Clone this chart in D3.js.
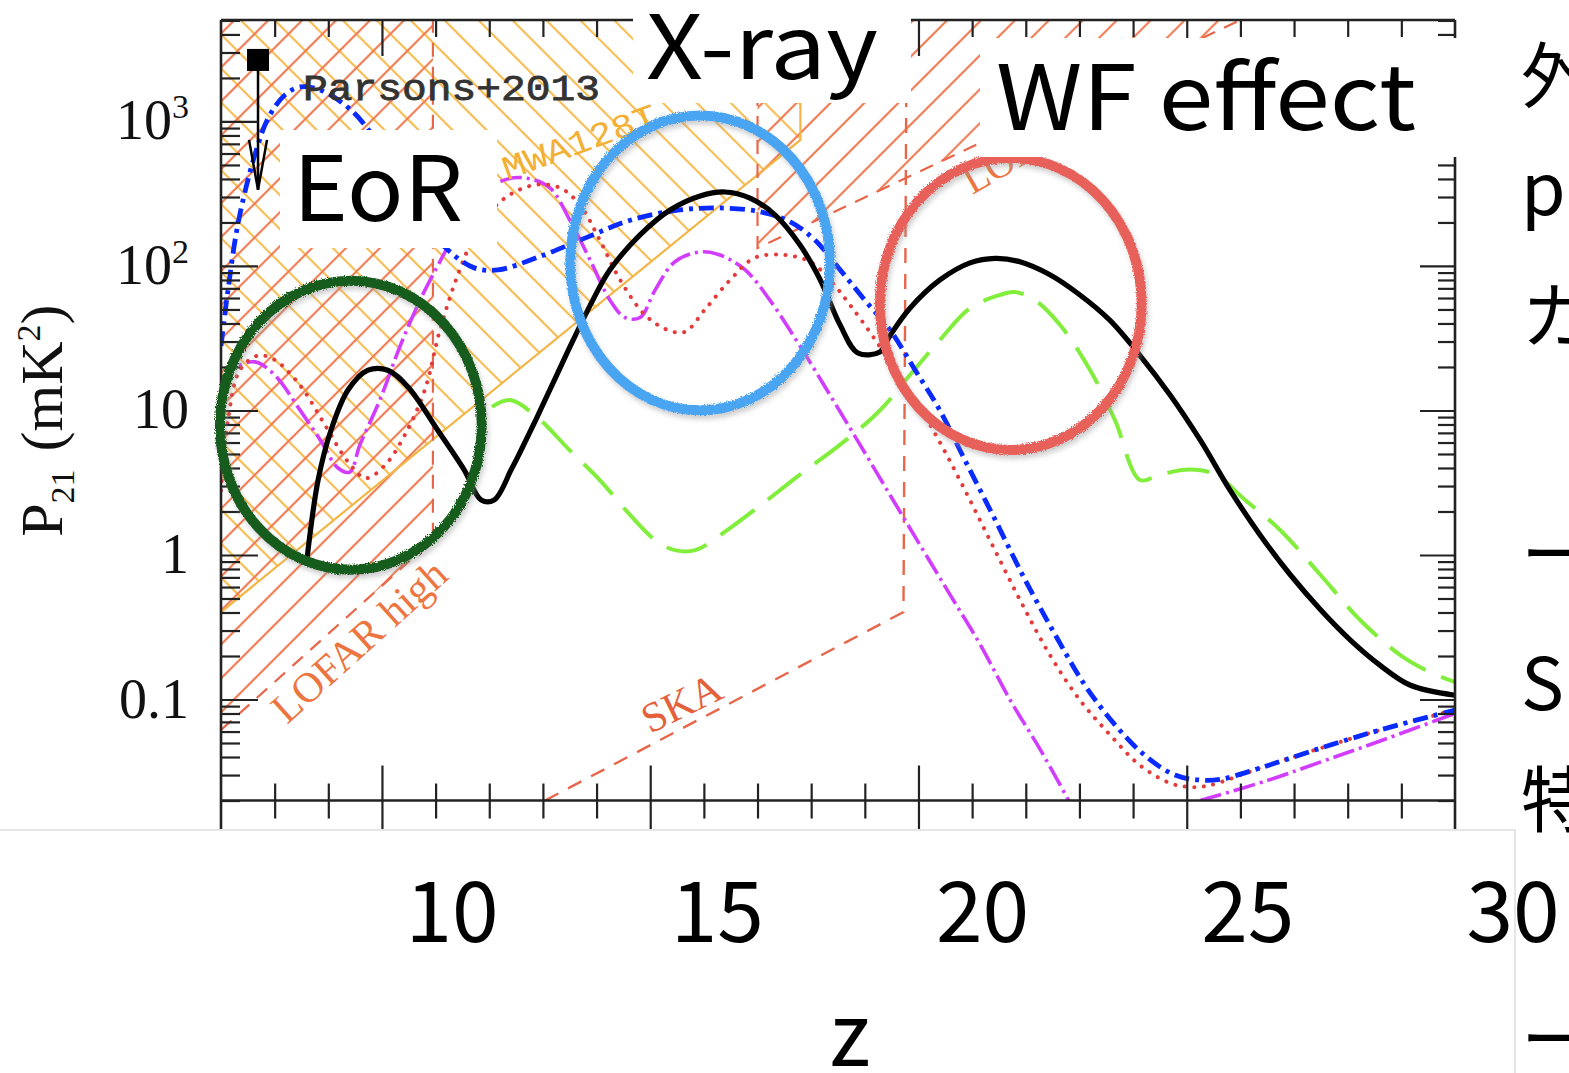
<!DOCTYPE html>
<html><head><meta charset="utf-8">
<script src="https://cdn.jsdelivr.net/npm/d3@7"></script>
<style>html,body{margin:0;padding:0;background:#fff;overflow:hidden}</style>
</head><body>
<svg id="c" width="1569" height="1073"></svg>
<script>
// ---------------- data ----------------
const blackZ = [8.6,8.81,9.05,9.37,9.74,10.11,10.49,11.04,11.53,11.85,12.09,12.41,12.57,12.95,13.45,13.93,14.25,14.81,15.37,15.93,16.39,16.86,17.33,17.79,18.17,18.54,18.87,19.28,19.47,19.84,20.4,20.96,21.43,21.89,22.45,23.01,23.57,24.13,24.69,25.25,25.81,26.37,26.93,27.49,28.04,28.6,29.16,30];
const blackP = [0.92,3.3,7.3,13.9,19,19,14.5,7.3,3.9,2.4,2.4,3.9,5.1,10,25,58,94,164,244,305,325,295,225,140,80,39,25,25.4,33,51,80,105,113,107,87,63,42,24,12.8,6.25,2.8,1.37,0.73,0.42,0.26,0.173,0.126,0.107];

const greenZ = [12.05,12.39,12.89,13.5,14.06,14.62,15.09,15.46,15.84,16.3,17.05,17.79,18.54,19.28,19.84,20.4,20.96,21.52,21.8,22.17,22.64,23.2,23.66,24.13,24.5,25.06,25.53,26.09,26.74,27.49,28.23,28.98,29.53,30];
const greenP = [10.6,11.8,9.0,5.3,3.3,1.9,1.27,1.08,1.08,1.37,2.2,3.6,5.8,10,17.6,30.8,51,63,66,58,39,19,8.6,3.3,3.6,3.9,3.6,2.4,1.49,0.73,0.355,0.203,0.155,0.132];

const magentaZ = [7,7.26,7.63,8.0,8.47,8.85,9.18,9.4,9.59,9.96,10.34,10.71,11.08,11.45,11.83,12.29,12.67,13.13,13.5,13.88,14.25,14.53,14.81,15.09,15.46,15.93,16.3,16.77,17.23,17.79,18.35,18.91,19.47,20.03,20.59,21.15,21.71,22.27,22.8];
const magentaP = [15,19.7,21.7,17.6,10.1,6.25,4.0,3.75,5.8,11.8,28,58,107,192,310,394,406,347,208,110,58,44,44,68,107,125,119,94,58,28,12.8,5.8,2.6,1.17,0.53,0.24,0.099,0.045,0.02];
const magenta2Z = [25.25,26.5,27.5,28.5,30];
const magenta2P = [0.02,0.0275,0.037,0.05,0.08];

const redZ = [7.0,7.13,7.35,7.69,8.0,8.47,8.94,9.37,9.7,10.06,10.43,10.8,11.08,11.45,11.83,12.29,12.85,13.32,13.69,14.06,14.44,14.9,15.33,15.65,16.02,16.49,16.95,17.51,17.98,18.35,18.72,19.19,19.66,20.22,20.77,21.33,21.89,22.45,23.01,23.57,24.13,24.69,25.06,25.43,26.37,27.49,28.6,30];
const redP = [2.8,8.6,19,24,22.4,15,7.9,4.4,3.4,4.2,6.8,13.9,36,94,192,295,364,347,264,151,80,46,36,35,50,80,114,119,107,80,54,31,16.8,7.9,3.3,1.27,0.49,0.203,0.099,0.057,0.035,0.0264,0.0248,0.0255,0.0336,0.046,0.0615,0.0845];

const blueZ = [7.0,7.13,7.32,7.62,7.88,8.19,8.47,8.85,9.31,9.68,10.34,10.8,11.23,11.72,12.16,12.91,13.84,14.64,15.56,16.3,17.05,17.61,18.07,18.54,19.0,19.47,19.94,20.4,20.87,21.43,21.99,22.55,23.1,23.66,24.22,24.78,25.25,25.62,26.37,27.49,28.6,30];
const blueP = [28,68,199,568,1057,1525,1733,1652,1300,946,394,202,129,97,94,115,159,208,244,252,237,202,151,94,58,36,19,10,4.5,1.75,0.67,0.28,0.126,0.067,0.041,0.030,0.0277,0.028,0.0336,0.046,0.0615,0.0845];

// Parsons+2013 upper limit
const parsonsZ = [7.69];
const parsonsP = [2665];
const parsonsArrowP = [336];

// experiment sensitivity regions (z, P)
const PTOP = 5035;
const lofarHighZ = [7, 10.95, 10.95, 7];
const lofarHighP = [0.0615, 1.27, PTOP, PTOP];
const lofarLowZ = [17.0, 17.0, 26.0];
const lofarLowP = [PTOP, 133, PTOP];
const mwaZ = [7, 17.8, 17.8, 7];
const mwaP = [0.403, 745, PTOP, PTOP];
const skaZ = [13.04, 19.72, 19.78];
const skaP = [0.02, 0.403, PTOP];

// axes
const yTickVals = [1000, 100, 10, 1, 0.1];
const yTickLabels = ["10^3", "10^2", "10", "1", "0.1"];
const xMajorTicks = [10, 15, 20, 25];
const xLabelVals = [10, 15, 20, 25, 30];
const xLabelText = ["10", "15", "20", "25", "30"];
const axisFloorP = 0.02;

// annotation ellipses (centre z, centre P, radius in z, radius in decades)
const ringZ = [9.42, 15.93, 21.72];
const ringP = [7.9, 105, 54.6];
const ringRZ = [2.44, 2.42, 2.44];
const ringRDec = [1.0, 1.02, 1.01];
const ringColors = ["#165c1c", "#4aa4f2", "#e8605a"];

// slide labels
const sideText = ["外", "p", "カ", "ー", "S", "特", "ー"];

// ---------------- drawing ----------------
const svg = d3.select("#c");
const x = d3.scaleLinear().domain([7, 30]).range([221, 1455]);
const y = d3.scaleLog().domain([Math.pow(10, -1.903), Math.pow(10, 3.702)]).range([830, 20]);
const xLab = d3.scaleLinear().domain([10, 30]).range([452, 1513]);
const yFloor = y(axisFloorP);

const defs = svg.append("defs");
function hatch(id, color, angle) {
  const p = defs.append("pattern").attr("id", id).attr("patternUnits", "userSpaceOnUse")
    .attr("width", 24).attr("height", 24).attr("patternTransform", `rotate(${angle})`);
  p.append("line").attr("x1", 12).attr("y1", 0).attr("x2", 12).attr("y2", 24)
    .attr("stroke", color).attr("stroke-width", 2.2);
}
hatch("hR", "#ef7d55", 45);
hatch("hO", "#f6bd55", -45);
hatch("hR2", "#ef7d55", 45);
defs.append("clipPath").attr("id", "plotClip").append("rect")
  .attr("x", 221).attr("y", 20).attr("width", 1234).attr("height", yFloor - 20);
const f = defs.append("filter").attr("id", "rough").attr("x", "-10%").attr("y", "-10%").attr("width", "120%").attr("height", "120%");
f.append("feTurbulence").attr("type", "fractalNoise").attr("baseFrequency", 0.9).attr("numOctaves", 2).attr("result", "n");
f.append("feDisplacementMap").attr("in", "SourceGraphic").attr("in2", "n").attr("scale", 4).attr("result", "d");
f.append("feGaussianBlur").attr("in", "d").attr("stdDeviation", 2.5).attr("result", "b");
f.append("feOffset").attr("in", "b").attr("dx", 2).attr("dy", 4).attr("result", "o");
f.append("feColorMatrix").attr("in", "o").attr("type", "matrix")
  .attr("values", "0 0 0 0 0.3  0 0 0 0 0.3  0 0 0 0 0.3  0 0 0 0.45 0").attr("result", "s");
const fm = f.append("feMerge"); fm.append("feMergeNode").attr("in", "s"); fm.append("feMergeNode").attr("in", "d");

const zip = (a, b) => a.map((v, i) => [v, b[i]]);
const poly = d3.line().x(d => x(d[0])).y(d => y(d[1]));
const smooth = d3.line().x(d => x(d[0])).y(d => y(d[1])).curve(d3.curveCatmullRom.alpha(0.5));

const plot = svg.append("g").attr("clip-path", "url(#plotClip)");

// regions
plot.append("path").attr("d", poly(zip(mwaZ, mwaP)) + "Z").attr("fill", "url(#hO)");
plot.append("path").attr("d", poly(zip(lofarHighZ, lofarHighP)) + "Z").attr("fill", "url(#hR)");
plot.append("path").attr("d", poly(zip(lofarLowZ, lofarLowP)) + "Z").attr("fill", "url(#hR2)");
plot.append("path").attr("d", poly(zip(mwaZ.slice(0, 3), mwaP.slice(0, 3))))
  .attr("fill", "none").attr("stroke", "#f3b545").attr("stroke-width", 2.2);
plot.append("path").attr("d", poly(zip(lofarHighZ.slice(0, 3), lofarHighP.slice(0, 3))))
  .attr("fill", "none").attr("stroke", "#e8664a").attr("stroke-width", 2.2).attr("stroke-dasharray", "14 10");
plot.append("path").attr("d", poly(zip(lofarLowZ, lofarLowP)))
  .attr("fill", "none").attr("stroke", "#e8664a").attr("stroke-width", 2.2).attr("stroke-dasharray", "14 10");
plot.append("path").attr("d", poly(zip(skaZ, skaP)))
  .attr("fill", "none").attr("stroke", "#e8664a").attr("stroke-width", 2.4).attr("stroke-dasharray", "15 11");

// region labels
function rotText(txt, px, py, ang, size, color, family, anchor, extra) {
  const t = svg.append("text").attr("transform", `translate(${px},${py}) rotate(${ang})`)
    .attr("text-anchor", anchor).attr("font-family", family).attr("font-size", size)
    .attr("fill", color).text(txt);
  if (extra) extra(t);
  return t;
}
rotText("LOFAR high", x(9.75), y(0.1) - 48, -42, 42, "#ec7540", "Liberation Serif", "middle");
rotText("SKA", x(15.7), y(0.1) + 16, -26, 42, "#e4603a", "Liberation Serif", "middle");
rotText("LOFAR low", x(21.0), y(300) - 2, -30, 40, "#ec7540", "Liberation Serif", "start");
rotText("MWA128T", x(13.75), y(600) - 1, -20, 34, "#f2b035", "Liberation Mono", "middle",
  t => t.attr("textLength", 162).attr("lengthAdjust", "spacingAndGlyphs"));

// curves
const cv = plot.append("g").attr("fill", "none");
cv.append("path").attr("d", smooth(zip(greenZ, greenP))).attr("stroke", "#82ee3c").attr("stroke-width", 4).attr("stroke-dasharray", "42 17");
cv.append("path").attr("d", smooth(zip(magentaZ, magentaP))).attr("stroke", "#d13cff").attr("stroke-width", 3.6).attr("stroke-dasharray", "22 5 3 5");
cv.append("path").attr("d", smooth(zip(magenta2Z, magenta2P))).attr("stroke", "#d13cff").attr("stroke-width", 3.6).attr("stroke-dasharray", "22 5 3 5");
cv.append("path").attr("d", smooth(zip(redZ, redP))).attr("stroke", "#e43a3a").attr("stroke-width", 4).attr("stroke-linecap", "round").attr("stroke-dasharray", "0.1 9.5");
cv.append("path").attr("d", smooth(zip(blueZ, blueP))).attr("stroke", "#0a2bff").attr("stroke-width", 4.8).attr("stroke-dasharray", "15 6 4 6");
cv.append("path").attr("d", smooth(zip(blackZ, blackP))).attr("stroke", "#000").attr("stroke-width", 5.2).attr("stroke-linejoin", "round");

// Parsons point
const pg = svg.append("g");
parsonsZ.forEach((z, i) => {
  const px = x(z), py = y(parsonsP[i]), pa = y(parsonsArrowP[i]);
  pg.append("line").attr("x1", px).attr("x2", px).attr("y1", py).attr("y2", pa).attr("stroke", "#000").attr("stroke-width", 2.5);
  pg.append("path").attr("d", `M${px - 9},${pa - 50}L${px},${pa}L${px + 9},${pa - 50}`).attr("fill", "none").attr("stroke", "#000").attr("stroke-width", 2.5);
  pg.append("rect").attr("x", px - 11).attr("y", py - 11).attr("width", 22).attr("height", 22).attr("fill", "#000");
});
svg.append("text").attr("x", 303).attr("y", y(parsonsP[0]) + 40).attr("font-family", "Liberation Mono")
  .attr("font-size", 36).attr("fill", "#333").attr("stroke", "#333").attr("stroke-width", 0.8)
  .attr("textLength", 297).attr("lengthAdjust", "spacingAndGlyphs").text("Parsons+2013");

// axes / frame
const minorY = [];
for (let e = -2; e <= 3; e++) for (let m = 2; m <= 9; m++) {
  const v = m * Math.pow(10, e);
  if (v >= y.domain()[0] && v <= y.domain()[1]) minorY.push(v);
}
const majorY = [0.1, 1, 10, 100, 1000];
const minorX = d3.range(8, 30).filter(v => v % 5 !== 0);
function tickAxis(gen, tx, ty, vals, size) {
  const g = svg.append("g").attr("transform", `translate(${tx},${ty})`)
    .call(gen.tickValues(vals).tickSize(size).tickFormat(""));
  g.select(".domain").remove();
  g.selectAll("line").attr("stroke", "#222").attr("stroke-width", 2.2);
}
tickAxis(d3.axisRight(y), 221, 0, minorY, 19);
tickAxis(d3.axisRight(y), 221, 0, majorY, 37);
tickAxis(d3.axisLeft(y), 1455, 0, minorY, 17);
tickAxis(d3.axisLeft(y), 1455, 0, majorY, 35);
tickAxis(d3.axisBottom(x), 0, 20, minorX, 17);
tickAxis(d3.axisBottom(x), 0, 20, xMajorTicks, 36);
tickAxis(d3.axisTop(x), 0, yFloor, minorX, 17);
tickAxis(d3.axisTop(x), 0, yFloor, xMajorTicks, 35);
tickAxis(d3.axisBottom(x), 0, yFloor, minorX, 18);
tickAxis(d3.axisBottom(x), 0, yFloor, xMajorTicks, 32);
const fr = svg.append("g").attr("stroke", "#222").attr("stroke-width", 2.6);
fr.append("line").attr("x1", x(7)).attr("x2", x(30)).attr("y1", 20).attr("y2", 20);
fr.append("line").attr("x1", x(7)).attr("x2", x(30)).attr("y1", yFloor).attr("y2", yFloor);
fr.append("line").attr("x1", x(7)).attr("x2", x(7)).attr("y1", 20).attr("y2", 832);
fr.append("line").attr("x1", x(30)).attr("x2", x(30)).attr("y1", 20).attr("y2", 832);

// y tick labels
yTickVals.forEach((v, i) => {
  const parts = yTickLabels[i].split("^");
  const t = svg.append("text").attr("x", 189).attr("y", y(v) + 18).attr("text-anchor", "end")
    .attr("font-family", "Liberation Serif").attr("font-size", 56).attr("fill", "#111");
  t.append("tspan").text(parts[0]);
  if (parts[1]) t.append("tspan").attr("font-size", 34).attr("dy", -21).text(parts[1]);
});
// y title
const yt = svg.append("text").attr("transform", `translate(62,${y(8.5)}) rotate(-90)`)
  .attr("text-anchor", "middle").attr("font-family", "Liberation Serif").attr("font-size", 60).attr("fill", "#111");
yt.append("tspan").text("P");
yt.append("tspan").attr("font-size", 34).attr("dy", 12).text("21");
yt.append("tspan").attr("dy", -12).attr("dx", 18).text("(mK");
yt.append("tspan").attr("font-size", 34).attr("dy", -22).text("2");
yt.append("tspan").attr("dy", 22).text(")");

// annotation rings
ringZ.forEach((z, i) => {
  const cx = x(z), cy = y(ringP[i]);
  svg.append("ellipse").attr("cx", cx).attr("cy", cy)
    .attr("rx", x(z + ringRZ[i]) - cx).attr("ry", cy - y(ringP[i] * Math.pow(10, ringRDec[i])))
    .attr("fill", "none").attr("stroke", ringColors[i]).attr("stroke-width", 10).attr("filter", "url(#rough)");
});

// slide label boxes
const SF = "'Noto Sans CJK JP','Noto Sans',sans-serif";
function labelBox(bx, by, bw, bh, txt, tx, ty, size, len) {
  svg.append("rect").attr("x", bx).attr("y", by).attr("width", bw).attr("height", bh).attr("fill", "#fff");
  svg.append("text").attr("x", tx).attr("y", ty).attr("font-family", SF).attr("font-size", size)
    .attr("fill", "#000").attr("textLength", len).attr("lengthAdjust", "spacingAndGlyphs").text(txt);
}
labelBox(633, 0, 278, 103, "X-ray", 646, 79, 88, 232);
labelBox(980, 38, 480, 119, "WF effect", 996, 130, 90, 420);
labelBox(280, 130, 217, 118, "EoR", 293, 221, 90, 170);

// bottom white panel with x labels
svg.append("rect").attr("x", -2).attr("y", 830).attr("width", 1517).attr("height", 250)
  .attr("fill", "#fff").attr("stroke", "#e6e6e6").attr("stroke-width", 2);
xLabelVals.forEach((v, i) => {
  svg.append("text").attr("x", xLab(v)).attr("y", 942).attr("text-anchor", "middle")
    .attr("font-family", SF).attr("font-size", 84).attr("fill", "#000").text(xLabelText[i]);
});
svg.append("text").attr("x", 850).attr("y", 1066).attr("text-anchor", "middle")
  .attr("font-family", SF).attr("font-size", 86).attr("fill", "#000").text("z");

// clipped slide text on the right
const sideY = [102, 215, 342, 580, 710, 826, 1065];
sideText.forEach((s, i) => {
  svg.append("text").attr("x", 1521).attr("y", sideY[i]).attr("font-family", SF)
    .attr("font-size", 72).attr("fill", "#000").text(s);
});
</script>
</body></html>
